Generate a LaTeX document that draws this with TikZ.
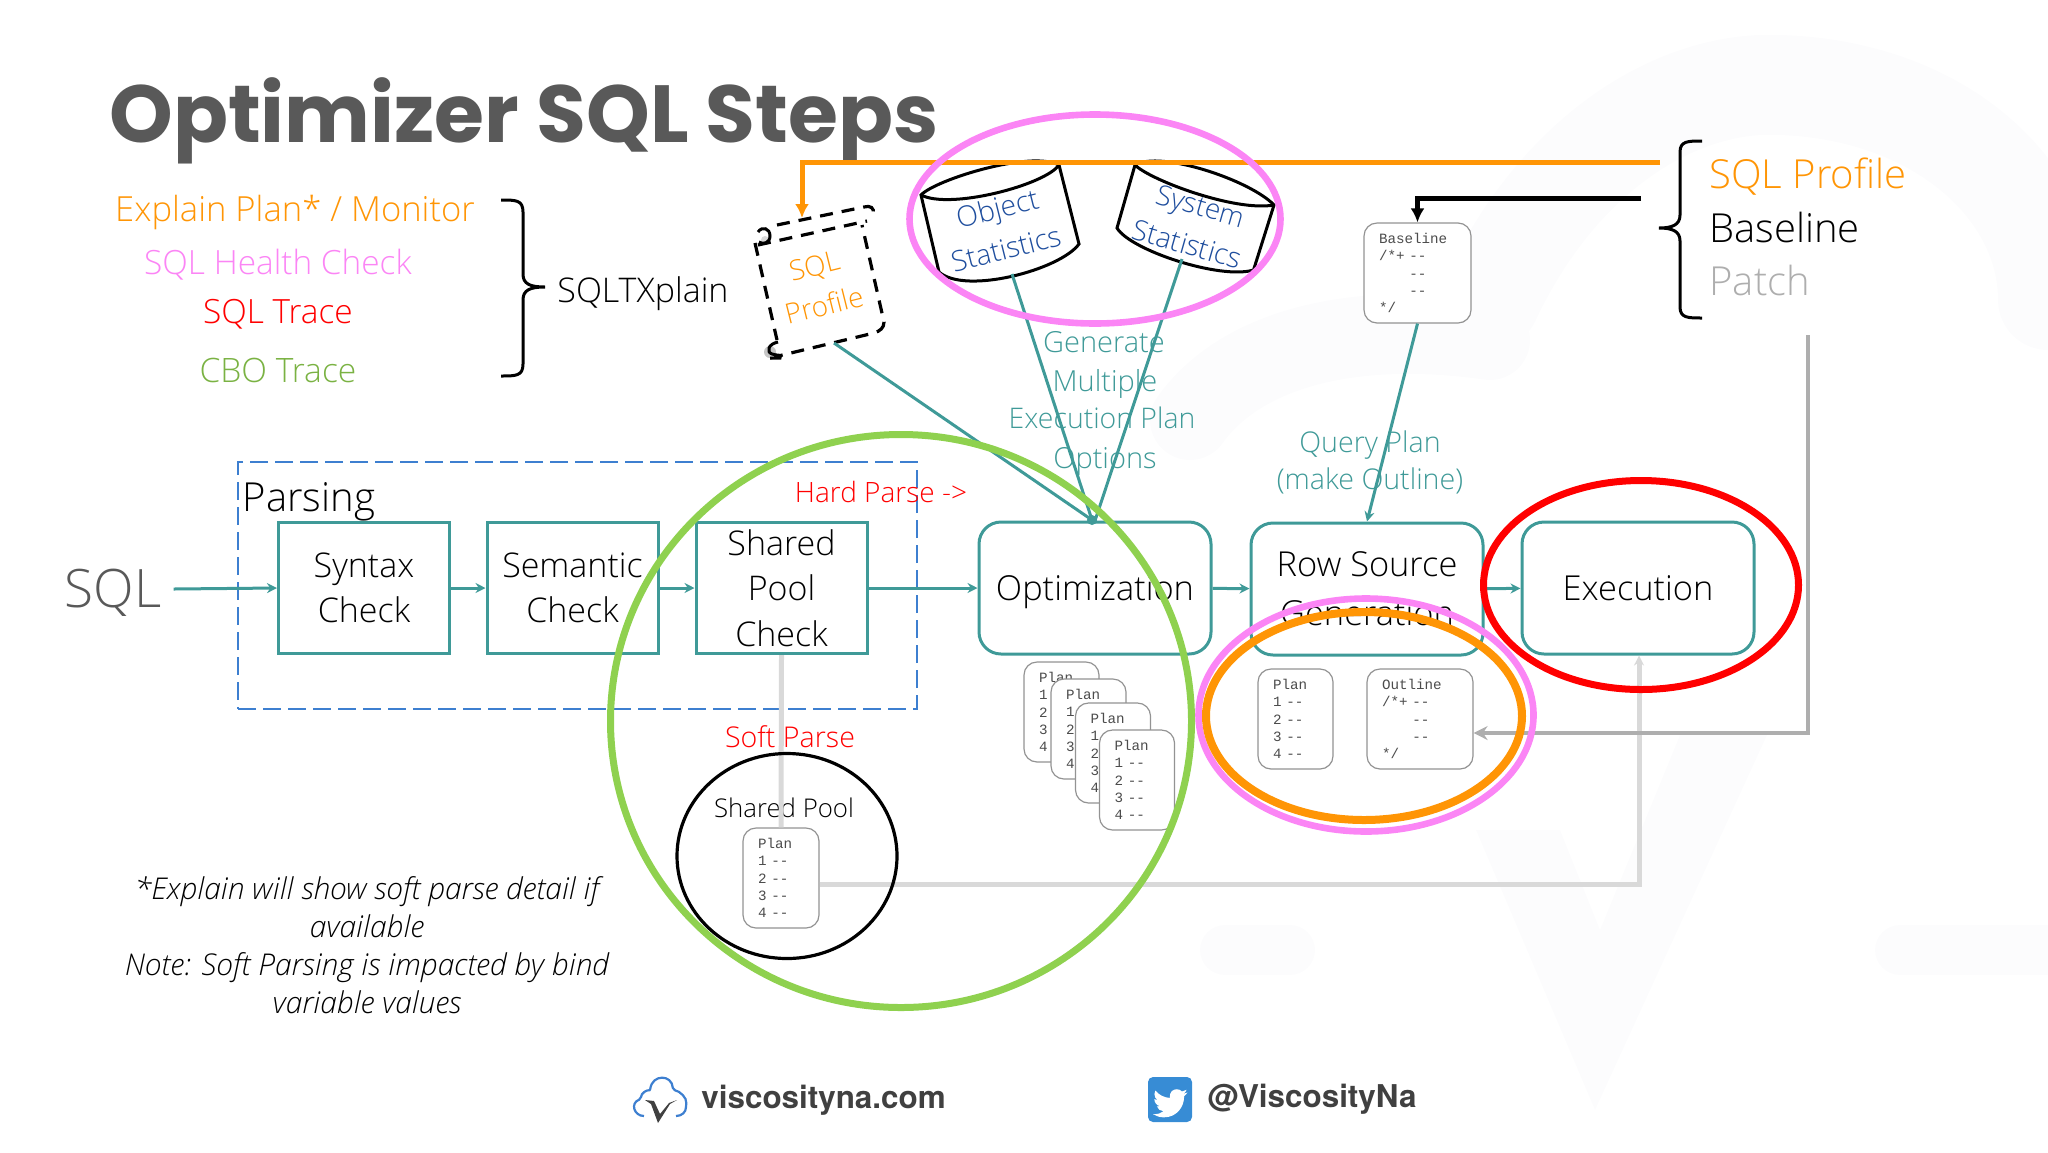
\documentclass[tikz,border=0pt]{standalone}
\usepackage{fontspec}
\usetikzlibrary{arrows.meta,shapes.geometric}
\setmainfont{Open Sans Light}[ItalicFont={Open Sans Light Italic}]
\newfontfamily\titlefont{Poppins}[UprightFont=* Bold]
\newfontfamily\footfont{TeX Gyre Heros}[UprightFont=* Bold]
\newfontfamily\monofont{Liberation Mono}
\definecolor{teal1}{HTML}{3F9A98}
\definecolor{gtext}{HTML}{595959}
\definecolor{orng}{HTML}{FF9505}
\definecolor{pnk}{HTML}{FB85F5}
\definecolor{grn}{HTML}{8FD14F}
\definecolor{rd}{HTML}{FF0000}
\definecolor{blu}{HTML}{3D7FD0}
\definecolor{dkblu}{HTML}{1F4E9E}
\definecolor{gr1}{HTML}{AEAEAE}
\definecolor{gr2}{HTML}{D9D9D9}
\definecolor{wm}{HTML}{FCFCFD}
\newcommand{\fs}[1]{\fontsize{#1}{#1}\selectfont}
\newcommand{\dd}{{-}{-}}
\tikzset{
  square/.style={draw=teal1,line width=1.5pt,minimum width=85.5pt,minimum height=65.5pt,inner sep=0pt,align=center,font=\fs{17},execute at begin node=\setlength{\baselineskip}{22.8pt}},
  round/.style={draw=teal1,line width=1.5pt,rounded corners=11pt,minimum width=116pt,minimum height=66pt,inner sep=0pt,align=center,font=\fs{17.2},execute at begin node=\setlength{\baselineskip}{24.5pt}},
  flow/.style={draw=teal1,line width=1.5pt,-{Stealth[length=5pt,width=5pt]}},
  feed/.style={draw=teal1,line width=1.5pt},
  docbox/.style={draw=gray!85,line width=.6pt,fill=white,rounded corners=6.5pt,minimum height=50pt,inner xsep=7.5pt,inner ysep=0pt,align=left,text=black!70,font=\monofont\fs{7.1},execute at begin node=\setlength{\baselineskip}{8.6pt}},
  ring/.style={ellipse,draw,inner sep=0pt,fill=none},
  lab/.style={inner sep=0pt,font=\fs{14.3}},
  cyl/.style={draw=black,line width=1.5pt},
  dash1/.style={draw=black,line width=1.6pt,dash pattern=on 6.5pt off 4.5pt},
  brc/.style={draw=black,line width=1.5pt},
}
\begin{document}
\begin{tikzpicture}[x=0.5pt,y=-0.5pt]
\useasboundingbox (0,0) rectangle (2048,1152);
% faint watermark
\draw[wm,line width=50pt,line cap=round] (1490,300) .. controls (1560,150) and (1680,80) .. (1780,85) .. controls (1940,90) and (2048,190) .. (2048,300);
\draw[wm,line width=40pt,line cap=round] (1190,420) .. controls (1240,350) and (1350,320) .. (1490,340);
\draw[wm,line width=25pt,line cap=round] (1225,950) -- (1290,950);
\draw[wm,line width=25pt,line cap=round] (1900,950) -- (2048,950);
\fill[wm] (1476,830) -- (1595,1110) -- (1767,735) -- (1680,735) -- (1600,930) -- (1560,830) -- cycle;
% title
\node[inner sep=0pt,text=gtext,font=\titlefont\fs{40.5}] (title) at (524,121) {Optimizer SQL Steps};
% legend left
\node[lab,text=orng,font=\fs{17.3}] (l1) at (295,213) {Explain Plan* / Monitor};
\node[lab,text=pnk,font=\fs{16.7}] (l2) at (278,265) {SQL Health Check};
\node[lab,text=rd,font=\fs{16.7}] (l3) at (278,314) {SQL Trace};
\node[lab,text=grn!85!black,font=\fs{16.8}] (l4) at (278,370) {CBO Trace};
\node[lab,font=\fs{17}] (sqltx) at (643,294) {SQLTXplain};
\draw[brc] (501,200) .. controls (516,200) and (523,200) .. (523,212) -- (523,274) .. controls (523,284) and (530,287) .. (545,287) .. controls (530,287) and (523,290) .. (523,300) -- (523,364) .. controls (523,376) and (516,376) .. (501,376);
% parsing frame
\node[draw=blu,line width=1.4pt,dash pattern=on 9pt off 3.5pt,minimum width=339.5pt,minimum height=123.5pt,inner sep=0pt] (parse) at (577.5,585.5) {};
\node[lab,font=\fs{20}] (parsing) at (309,502) {Parsing};
\node[lab,text=rd,font=\fs{14}] (hard) at (881,492) {Hard Parse ->};
\node[lab,text=rd,font=\fs{14.3}] (soft) at (790,737) {Soft Parse};
% boxes
\node[inner sep=0pt,text=gtext,font=\fs{26.5}] (sql) at (113,593) {SQL};
\node[square] (syntax) at (364,588) {Syntax\\Check};
\node[square] (semantic) at (572.5,588) {Semantic\\Check};
\node[square] (pool) at (781.5,588) {Shared\\Pool\\Check};
\node[round,text depth=0pt] (opt) at (1095,588) {Optimization};
\node[round] (row) at (1367,589) {Row Source\\Generation};
\node[round] (exec) at (1638,588) {Execution};
% connector flow
\draw[flow] ([xshift=6pt,yshift=2pt]sql.east) -- (syntax.west);
\draw[flow] (syntax) -- (semantic);
\draw[flow] (semantic) -- (pool);
\draw[flow] (pool) -- (opt);
\draw[flow] (opt) -- (row);
\draw[flow] (row) -- (exec);
% doc boxes
\node[docbox,text width=22.5pt] (p1) at (1061.5,712) {Plan\\1 \dd\\2 \dd\\3 \dd\\4 \dd};
\node[docbox,text width=22.5pt] (p2) at (1088.5,729) {Plan\\1 \dd\\2 \dd\\3 \dd\\4 \dd};
\node[docbox,text width=22.5pt] (p3) at (1113,753) {Plan\\1 \dd\\2 \dd\\3 \dd\\4 \dd};
\node[docbox,text width=22.5pt] (p4) at (1137,780) {Plan\\1 \dd\\2 \dd\\3 \dd\\4 \dd};
\node[docbox,text width=22.5pt] (prow) at (1295.5,719) {Plan\\1 \dd\\2 \dd\\3 \dd\\4 \dd};
\node[docbox,text width=38pt] (outline) at (1420,719) {Outline\\/*+ \dd\\\phantom{/*+ }\dd\\\phantom{/*+ }\dd\\{*}/};
\node[docbox,text width=38.5pt] (base) at (1417.5,273) {Baseline\\/*+ \dd\\\phantom{/*+ }\dd\\\phantom{/*+ }\dd\\{*}/};
% shared pool
\node[docbox,text width=23pt] (pshared) at (781,878) {Plan\\1 \dd\\2 \dd\\3 \dd\\4 \dd};
\node[lab,font=\fs{12.9}] (splabel) at (784,808) {Shared Pool};
% grey links
\draw[gr2,line width=2.5pt] (pool.south) -- (pshared.north);
\coordinate (execturn) at (1639,884);
\draw[gr2,line width=2.5pt,-{Stealth[length=5pt,width=5pt]}] (pshared.east |- execturn) -- (execturn) -- (execturn |- exec.south);
\coordinate (patchtop) at (1808,335);
\coordinate (patchturn) at (1808,733);
\draw[gr1,line width=2.4pt,-{Stealth[length=7pt,width=7pt]}] (patchtop) -- (patchturn) -- (outline.east |- patchturn);
% cylinders
\draw[cyl,fill=white] (921,195) .. controls (935,180) and (1030,150) .. (1059,165) -- (1079,244) .. controls (1060,270) and (965,295) .. (939,272) -- cycle;
\draw[cyl] (921,195) .. controls (950,210) and (1045,185) .. (1059,165);
\coordinate (objb) at (1012,274);
\node[lab,text=dkblu,rotate=14,font=\fs{14.2}] (objt) at (998,211) {Object};
\node[lab,text=dkblu,rotate=14,font=\fs{14.2}] (objs) at (1006,249) {Statistics};
\draw[cyl,fill=white] (1135,165) .. controls (1160,150) and (1250,180) .. (1274,205) -- (1253.5,270) .. controls (1220,280) and (1130,250) .. (1117,228) -- cycle;
\draw[cyl] (1135,165) .. controls (1150,180) and (1235,212) .. (1274,205);
\coordinate (sysb) at (1182,259);
\node[lab,text=dkblu,rotate=-16,font=\fs{14}] (syst) at (1200,209) {System};
\node[lab,text=dkblu,rotate=-16,font=\fs{14.2}] (syss) at (1187,244) {Statistics};
% sql profile
\draw[dash1] (777,225) -- (864,207) .. controls (870,205) and (875,208) .. (873,214);
\draw[dash1] (758,245) -- (867,221);
\draw[dash1] (755,243) -- (777,340);
\draw[dash1] (770,358) -- (874,333) .. controls (880,331) and (884,328) .. (884,322) -- (862,225);
\fill[gr2] (765,240) circle (4);
\fill[gr1!70] (770,352) circle (6);
\draw[black,line width=1.5pt] (758,232) .. controls (762,226) and (770,228) .. (770,236) .. controls (770,243) and (763,245) .. (759,242);
\draw[black,line width=1.5pt] (778,342) .. controls (768,344) and (766,352) .. (772,354) .. controls (778,356) and (782,354) .. (780,358) -- (770,358);
\coordinate (profb) at (834,343);
\node[lab,text=orng,rotate=14,font=\fs{14}] (pr1) at (815,268) {SQL};
\node[lab,text=orng,rotate=14,font=\fs{14}] (pr2) at (824,305) {Profile};
% connectors in
\coordinate (optin) at (1092,520);
\draw[feed] (profb) -- (optin);
\draw[feed] (objb) -- (optin);
\draw[feed] (sysb) -- (opt.north);
\draw[flow] (base.south) -- (row.north);
\fill[teal1] (optin) circle (5);
% labels over
\node[lab,text=teal1,font=\fs{14.5}] (g1) at (1104,342) {Generate};
\node[lab,text=teal1,font=\fs{14.5}] (g2) at (1105,384) {Multiple};
\node[lab,text=teal1,font=\fs{14.2}] (g3) at (1102,418) {Execution Plan};
\node[lab,text=teal1,font=\fs{14.5}] (g4) at (1105,461) {Options};
\node[lab,text=teal1] (q1) at (1370,445) {Query Plan};
\node[lab,text=teal1] (q2) at (1370,481) {(make Outline)};
% top lines
\coordinate (orA) at (1660,162);
\coordinate (orB) at (802,162);
\draw[orng,line width=2.5pt,-{Latex[length=7pt,width=7pt]}] (orA) -- (orB) -- (orB |- 0,218);
\coordinate (blA) at (1641,198);
\draw[black,line width=2.5pt,-{Latex[length=7pt,width=7pt]}] (blA) -- (base.north |- blA) -- (base.north);
% right brace
\draw[brc] (1702,141) .. controls (1688,141) and (1680,141) .. (1680,152) -- (1680,215) .. controls (1680,225) and (1672,228) .. (1659,228) .. controls (1672,228) and (1680,231) .. (1680,241) -- (1680,307) .. controls (1680,318) and (1688,318) .. (1702,318);
\node[lab,anchor=west,text=orng,font=\fs{20}] (r1) at (1709,177) {SQL Profile};
\node[lab,anchor=west,font=\fs{20}] (r2) at (1709,227) {Baseline};
\node[lab,anchor=west,text=gr1,font=\fs{20}] (r3) at (1709,280) {Patch};
% rings
\node[ring,draw=grn,line width=3.5pt,minimum width=290.5pt,minimum height=286.5pt] (rgreen) at (901,721) {};
\node[ring,draw=pnk,line width=3.3pt,minimum width=185.5pt,minimum height=104.5pt] (rp1) at (1095,219) {};
\node[ring,draw=pnk,line width=3.3pt,minimum width=167.5pt,minimum height=116.5pt] (rp2) at (1366,715) {};
\node[ring,draw=orng,line width=4pt,minimum width=158pt,minimum height=104pt] (ror) at (1364,716) {};
\node[ring,draw=rd,line width=3.5pt,minimum width=157.5pt,minimum height=104.5pt] (rred) at (1641,585) {};
\node[ring,draw=black,line width=1.6pt,minimum width=110pt,minimum height=102.5pt] (rblack) at (787,856) {};
% note
\node[inner sep=0pt,align=center,font=\itshape\fs{15},execute at begin node=\setlength{\baselineskip}{19.1pt}] (note) at (367,945) {*Explain will show soft parse detail if\\available\\Note: Soft Parsing is impacted by bind\\variable values};
% footer
\draw[blu,line width=1.1pt,rounded corners=1pt] (644,1116) .. controls (634,1116) and (630,1103) .. (641,1099) .. controls (641,1093) and (647,1090) .. (650,1091) .. controls (652,1074) and (672,1074) .. (673,1090) .. controls (680,1091) and (687,1098) .. (686,1105) .. controls (686,1112) and (682,1116) .. (676,1116);
\fill[black!75] (645,1100) -- (654,1101) -- (660,1114) -- (669,1103) -- (677,1100) -- (670,1104) -- (658,1123) -- (651,1104) -- cycle;
\node[inner sep=0pt,anchor=west,text=black!75,font=\footfont\fs{15.7}] (web) at (701,1100) {viscosityna.com};
\fill[blu!90!cyan,rounded corners=2.5pt] (1148,1077) rectangle (1192,1122);
\begin{scope}[shift={(1153,1086)},x=0.72pt,y=-0.72pt]
\fill[white] (23.95,4.57) .. controls (23,5) and (22.1,5.2) .. (21.13,5.35) .. controls (22.15,4.74) and (22.9,3.77) .. (23.29,2.62) .. controls (22.34,3.18) and (21.29,3.58) .. (20.16,3.8) .. controls (18.3,1.8) and (15,1.7) .. (13,3.6) .. controls (11.8,4.8) and (11.4,6.6) .. (11.78,8.29) .. controls (7.69,8.1) and (4.07,6.13) .. (1.64,3.16) .. controls (1.2,3.9) and (.97,4.75) .. (.97,5.64) .. controls (.97,7.35) and (1.84,8.85) .. (3.16,9.73) .. controls (2.35,9.7) and (1.6,9.5) .. (.93,9.12) -- (.93,9.18) .. controls (.93,11.5) and (2.6,13.5) .. (4.88,14.01) .. controls (4.2,14.2) and (3.4,14.2) .. (2.66,14.09) .. controls (3.3,16.1) and (5.2,17.5) .. (7.27,17.51) .. controls (5.5,18.9) and (3.3,19.6) .. (1.17,19.62) .. controls (.78,19.62) and (.39,19.6) .. (0,19.55) .. controls (2.2,21) and (4.8,21.76) .. (7.56,21.76) .. controls (16.6,21.76) and (21.55,14.26) .. (21.55,7.77) .. controls (21.55,7.56) and (21.55,7.35) .. (21.54,7.14) .. controls (22.5,6.45) and (23.3,5.6) .. (24,4.59) -- cycle;
\end{scope}
\node[inner sep=0pt,anchor=west,text=black!75,font=\footfont\fs{15.7}] (tw) at (1207,1099) {@ViscosityNa};
\end{tikzpicture}
\end{document}
